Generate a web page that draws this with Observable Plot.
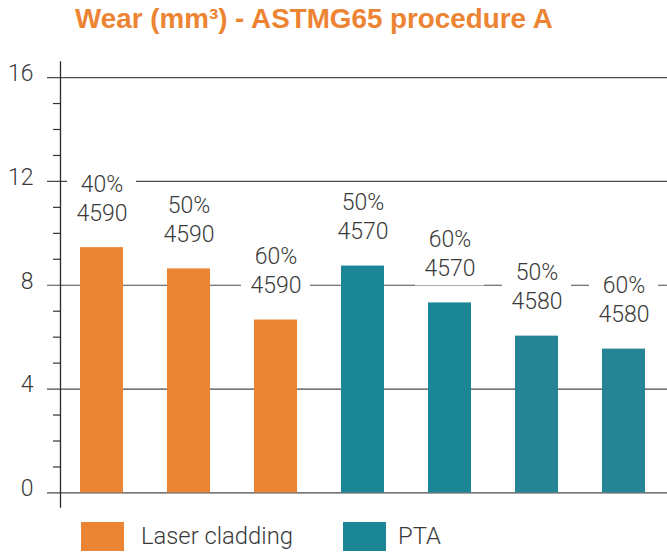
<!DOCTYPE html>
<html>
<head>
<meta charset="utf-8">
<script src="https://cdn.jsdelivr.net/npm/d3@7"></script>
<script src="https://cdn.jsdelivr.net/npm/@observablehq/plot@0.6"></script>
<style>
  html, body { margin: 0; padding: 0; background: #fff; }
  #wrap { position: relative; width: 667px; height: 558px; overflow: hidden; font-family: "Roboto", "Liberation Sans", sans-serif; }
  #title { position: absolute; left: 75px; top: 3px; font-family: "Liberation Sans", Arial, sans-serif; font-weight: bold; font-size: 27.8px; color: #ec8433; white-space: nowrap; }
  #chart { position: absolute; left: 0; top: 44px; }
  .legend { position: absolute; top: 522px; display: flex; align-items: center; }
  .sw { width: 43px; height: 29px; }
  .lt { font-size: 23.8px; font-weight: 300; color: #3a3a3a; margin-left: 17px; line-height: 29px; }
</style>
</head>
<body>
<div id="wrap">
  <div id="title">Wear (mm³) - ASTMG65 procedure A</div>
  <div id="chart"></div>
  <div class="legend" style="left:81px"><div class="sw" style="background:#eb8533"></div><div class="lt">Laser cladding</div></div>
  <div class="legend" style="left:343px"><div class="sw" style="background:#1b8796"></div><div class="lt" style="margin-left:12px">PTA</div></div>
</div>
<script>
const ids = ["LC1", "LC2", "LC3", "PTA1", "PTA2", "PTA3", "PTA4"];
const processes = ["Laser cladding", "Laser cladding", "Laser cladding", "PTA", "PTA", "PTA", "PTA"];
const percents = ["40%", "50%", "60%", "50%", "60%", "50%", "60%"];
const grades = ["4590", "4590", "4590", "4570", "4570", "4580", "4580"];
const wear = [9.45, 8.63, 6.66, 8.74, 7.32, 6.04, 5.54];
const barColors = ["#eb8533", "#eb8533", "#eb8533", "#1b8796", "#1b8796", "#268595", "#268595"];
const majorTicks = [0, 4, 8, 12, 16];
const minorTicks = [1, 2, 3, 5, 6, 7, 9, 10, 11, 13, 14, 15];

const data = ids.map((id, i) => ({
  id, process: processes[i], label: percents[i] + "\n" + grades[i], wear: wear[i], color: barColors[i]
}));

const chart = Plot.plot({
  width: 667,
  height: 470,
  marginLeft: 60,
  marginRight: 2,
  marginTop: 17.5,
  marginBottom: 7.3,
  style: { fontFamily: "Roboto, 'Liberation Sans', sans-serif", background: "white" },
  x: { domain: ids, axis: null, paddingInner: 0.508, paddingOuter: 0.215 },
  y: { domain: [-0.55, 16.6], axis: null },
  marks: [
    Plot.ruleY(majorTicks, { stroke: "#4a4a4a", strokeWidth: 1.2, insetLeft: -13, insetRight: -2 }),
    Plot.barY(data, { x: "id", y1: "wear", y2: "wear", fill: "white", insetLeft: -13, insetRight: -13, insetTop: -78.7, insetBottom: 17 }),
    Plot.barY(data, { x: "id", y1: 0, y2: "wear", fill: "color" }),
    Plot.text(data, { x: "id", y: "wear", text: "label", lineAnchor: "bottom", lineHeight: 1.25, dy: -27, fontSize: 23, fontWeight: 300, fill: "#3a3a3a" }),
    Plot.axisY({ ticks: minorTicks, tickSize: 7, tickFormat: () => "", label: null, stroke: "#333", strokeWidth: 1.2 }),
    Plot.axisY({ ticks: majorTicks, tickSize: 0, tickPadding: 27, label: null, fontSize: 23, fontWeight: 300, fill: "#3a3a3a", dy: -4 }),
    Plot.frame({ anchor: "left", stroke: "#2a2a2a", strokeWidth: 1.3 })
  ]
});
document.getElementById("chart").appendChild(chart);
</script>
</body>
</html>
